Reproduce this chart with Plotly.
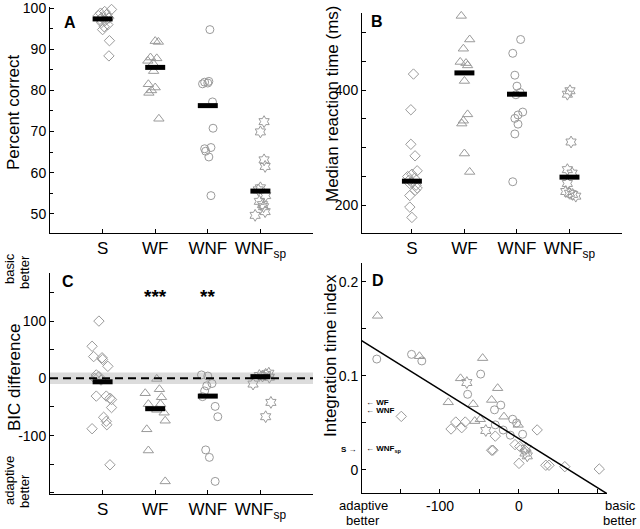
import plotly.graph_objects as go

W, H = 640, 529
FONT = "Liberation Sans, Arial, Helvetica, sans-serif"
GRAY = "#9a9a9a"

# ---------------- data ----------------
categories = ["S", "WF", "WNF", "WNF<sub>sp</sub>"]
cat_pos = [1, 2, 3, 4]
conditions = ["S", "WF", "WNF", "WNFsp"]

# Panel A: percent correct (values, x positions in category units)
pc_S = [99.7, 99.2, 98.8, 98.5, 98.2, 97.9, 97.6, 97.3, 97.0, 96.5, 96.0, 95.5, 94.8, 92.1, 88.4]
pc_S_x = [1.17, 1.04, 0.96, 1.08, 0.92, 1.00, 1.12, 0.95, 1.05, 0.98, 1.10, 1.03, 1.00, 1.13, 1.12]
pc_WF = [92.0, 91.8, 88.0, 87.8, 87.2, 86.6, 84.7, 81.5, 80.7, 80.0, 79.4, 73.1]
pc_WF_x = [2.00, 2.06, 1.91, 2.03, 1.86, 1.96, 1.97, 1.87, 2.00, 1.93, 1.88, 2.07]
pc_WNF = [94.8, 82.2, 82.0, 81.8, 81.6, 77.2, 70.8, 66.1, 65.8, 65.2, 63.8, 54.4]
pc_WNF_x = [3.04, 3.02, 2.94, 3.00, 2.90, 3.09, 3.10, 3.06, 2.94, 2.96, 3.02, 3.06]
pc_WNFsp = [72.4, 69.9, 63.1, 61.5, 56.3, 55.8, 54.4, 53.0, 52.2, 51.7, 50.5, 49.6]
pc_WNFsp_x = [4.07, 4.00, 4.07, 4.09, 4.00, 3.96, 4.10, 3.98, 4.04, 4.06, 4.09, 3.90]
pc_median = [97.4, 85.6, 76.3, 55.5]

# Panel B: median reaction time (ms)
rt_S = [428, 366, 306, 286, 260, 254, 250, 247, 244, 240, 238, 235, 230, 226, 217, 197, 179]
rt_S_x = [1.03, 0.98, 0.98, 1.06, 1.10, 1.00, 0.92, 1.05, 0.95, 1.00, 0.96, 1.08, 1.10, 1.06, 0.96, 0.96, 1.00]
rt_WF = [529, 488, 472, 449, 447, 443, 416, 358, 347, 342, 290, 258]
rt_WF_x = [1.94, 2.10, 1.98, 1.92, 2.03, 2.06, 2.00, 2.06, 1.98, 1.95, 2.00, 2.10]
rt_WNF = [488, 464, 426, 407, 396, 392, 362, 357, 351, 341, 324, 241]
rt_WNF_x = [3.07, 2.92, 2.96, 3.00, 3.06, 2.98, 3.11, 3.02, 2.96, 3.02, 2.96, 2.92]
rt_WNFsp = [399, 393, 310, 262, 256, 238, 224, 221, 219, 216]
rt_WNFsp_x = [4.01, 3.96, 4.03, 3.96, 4.05, 3.96, 3.93, 4.00, 4.06, 4.12]
rt_median = [242, 430, 393, 249]

# Panel C: BIC difference
bic_S = [100, 56, 38, 36, 33, 21, 6, 3, 0, -3, -31, -31, -35, -37, -51, -68, -75, -81, -88, -151]
bic_S_x = [0.93, 0.80, 0.83, 0.99, 1.00, 1.10, 0.88, 0.93, 0.85, 0.97, 0.88, 1.07, 1.14, 1.17, 1.17, 1.02, 1.07, 1.08, 0.80, 1.14]
bic_WF = [-1, -19, -26, -33, -45, -45, -55, -60, -74, -89, -126, -180]
bic_WF_x = [2.03, 2.08, 1.81, 2.12, 1.87, 2.10, 2.03, 2.17, 2.19, 1.84, 1.87, 2.19]
bic_WNF = [6, 4, -9, -13, -22, -32, -49, -67, -125, -138, -180]
bic_WNF_x = [2.88, 3.00, 3.08, 2.98, 2.94, 2.90, 3.14, 3.19, 2.96, 3.03, 3.14]
bic_WNFsp = [9, 7, 5, 4, 2, -10, -42, -67]
bic_WNFsp_x = [4.16, 4.10, 3.98, 4.04, 4.17, 3.86, 4.20, 4.10]
bic_median = [-6, -53, -31, 3]
sig_labels = ["", "***", "**", ""]
sig_level = 150
band_halfwidth = 10

# Panel D: BIC difference (x) vs integration time index (y)
d_S_x = [-149, -86, -80, -72.5, -68, -30, -5, -34.6, -33, 23, 1, 7.6, 0, 34, 38, 58, 101.6]
d_S_y = [0.057, 0.0436, 0.051, 0.045, 0.051, 0.036, 0.027, 0.021, 0.021, 0.0426, 0.025, 0.021, 0.007, 0.005, 0.005, 0.0035, 0.001]
d_WF_x = [-179, -126, -46, -74, -27, -89.5, -34.6, -58, -19, -56, -49, -1]
d_WF_y = [0.164, 0.121, 0.119, 0.0975, 0.087, 0.072, 0.0745, 0.070, 0.0567, 0.052, 0.054, 0.048]
d_WNF_x = [-180, -136, -123, -48.5, -65, -23, -31, -8, -3, -30, -20, -11, 4.6]
d_WNF_y = [0.118, 0.123, 0.116, 0.102, 0.0805, 0.069, 0.064, 0.054, 0.050, 0.048, 0.0425, 0.037, 0.038]
d_WNFsp_x = [-66, -42, 9, 7.6, 10.5]
d_WNFsp_y = [0.093, 0.042, 0.023, 0.018, 0.015]
fit_intercept = 0.0332
fit_slope = -0.000524
fit_x_range = [-200, 115]
mean_markers = {"WF": 0.072, "WNF": 0.063, "S": 0.022, "WNF<sub>sp</sub>": 0.022}

# ---------------- styling ----------------
SYMBOLS = {"S": ("diamond-open", 8), "WF": ("triangle-up-open", 9),
           "WNF": ("circle-open", 8), "WNFsp": ("hexagram-open", 9)}

fig = go.Figure()


def add_points(xs, ys, cond, xa, ya):
    sym, size = SYMBOLS[cond]
    fig.add_trace(go.Scatter(
        x=xs, y=ys, mode="markers", xaxis=xa, yaxis=ya, cliponaxis=False,
        marker=dict(symbol=sym, size=size, color=GRAY, line=dict(color=GRAY, width=1)),
        hoverinfo="skip"))


def add_medians(meds, xa, ya, half=0.19):
    xs, ys = [], []
    for p, m in zip(cat_pos, meds):
        xs += [p - half, p + half, None]
        ys += [m, m, None]
    fig.add_trace(go.Scatter(x=xs, y=ys, mode="lines", xaxis=xa, yaxis=ya,
                             line=dict(color="black", width=5), hoverinfo="skip"))


# Panel A
for xs, ys, c in [(pc_S_x, pc_S, "S"), (pc_WF_x, pc_WF, "WF"),
                  (pc_WNF_x, pc_WNF, "WNF"), (pc_WNFsp_x, pc_WNFsp, "WNFsp")]:
    add_points(xs, ys, c, "x", "y")
add_medians(pc_median, "x", "y")

# Panel B
for xs, ys, c in [(rt_S_x, rt_S, "S"), (rt_WF_x, rt_WF, "WF"),
                  (rt_WNF_x, rt_WNF, "WNF"), (rt_WNFsp_x, rt_WNFsp, "WNFsp")]:
    add_points(xs, ys, c, "x2", "y2")
add_medians(rt_median, "x2", "y2")

# Panel C
for xs, ys, c in [(bic_S_x, bic_S, "S"), (bic_WF_x, bic_WF, "WF"),
                  (bic_WNF_x, bic_WNF, "WNF"), (bic_WNFsp_x, bic_WNFsp, "WNFsp")]:
    add_points(xs, ys, c, "x3", "y3")
add_medians(bic_median, "x3", "y3")

# Panel D
for xs, ys, c in [(d_S_x, d_S_y, "S"), (d_WF_x, d_WF_y, "WF"),
                  (d_WNF_x, d_WNF_y, "WNF"), (d_WNFsp_x, d_WNFsp_y, "WNFsp")]:
    add_points(xs, ys, c, "x4", "y4")
fit_y = [fit_intercept + fit_slope * v for v in fit_x_range]
fig.add_trace(go.Scatter(x=fit_x_range, y=fit_y, mode="lines", xaxis="x4", yaxis="y4",
                         line=dict(color="black", width=1.5), hoverinfo="skip"))


# ---------------- axes ----------------
def dom_x(a, b):
    return [a / W, b / W]


def dom_y(top, bottom):
    return [1 - bottom / H, 1 - top / H]


common = dict(showline=True, linecolor="black", linewidth=1, ticks="inside", ticklen=4,
              tickcolor="black", tickwidth=1, showgrid=False, zeroline=False, automargin=False,
              ticklabeloverflow="allow",
              tickfont=dict(family=FONT, size=14, color="black"), fixedrange=True)

cat_axis = dict(common, tickmode="array", tickvals=cat_pos, ticktext=categories, range=[0, 5],
                tickfont=dict(family=FONT, size=17, color="black"))

A_top, A_bot = 7, 233
B_top, B_bot = 13, 233
C_top, C_bot = 273, 494
D_top, D_bot = 263, 493

fig.update_layout(
    template="none",
    xaxis=dict(cat_axis, domain=dom_x(50, 313), anchor="y"),
    yaxis=dict(common, domain=dom_y(A_top, A_bot), anchor="x", range=[45.3, 100.3],
               tickmode="array", tickvals=[50, 60, 70, 80, 90, 100],
               minor=dict(ticks="inside", ticklen=3, tickcolor="black", dtick=5, tick0=0, showgrid=False)),
    xaxis2=dict(cat_axis, domain=dom_x(362, 622), anchor="y2", range=[0.05, 5]),
    yaxis2=dict(common, domain=dom_y(B_top, B_bot), anchor="x2", range=[152, 534],
                tickmode="array", tickvals=[200, 400],
                minor=dict(ticks="inside", ticklen=4, tickcolor="black", dtick=50, tick0=0, showgrid=False)),
    xaxis3=dict(cat_axis, domain=dom_x(50, 313), anchor="y3"),
    yaxis3=dict(common, domain=dom_y(C_top, C_bot), anchor="x3", range=[-202, 184],
                tickmode="array", tickvals=[-100, 0, 100], ticktext=["-100", "0", "100"],
                minor=dict(ticks="inside", ticklen=4, tickcolor="black", dtick=50, tick0=0, showgrid=False)),
    xaxis4=dict(common, domain=dom_x(362, 607), anchor="y4", range=[-198.7, 111.4],
                tickmode="array", tickvals=[-100, 0], ticktext=["-100", "0"],
                minor=dict(ticks="inside", ticklen=4, tickcolor="black", tickmode="array",
                           tickvals=[-150, -50, 50, 100], showgrid=False)),
    yaxis4=dict(common, domain=dom_y(D_top, D_bot), anchor="x4", range=[-0.0245, 0.2202],
                tickmode="array", tickvals=[0, 0.1, 0.2], ticktext=["0", "0.1", "0.2"],
                minor=dict(ticks="inside", ticklen=4, tickcolor="black", dtick=0.05, tick0=0, showgrid=False)),
    width=W, height=H, margin=dict(l=0, r=0, t=0, b=0, autoexpand=False),
    paper_bgcolor="white", plot_bgcolor="white", showlegend=False,
    font=dict(family=FONT, color="black"),
)

# Panel C band and dashed zero line
fig.add_shape(type="rect", xref="x3", yref="y3", x0=0, x1=5, y0=-band_halfwidth, y1=band_halfwidth,
              fillcolor="#dcdcdc", line=dict(width=0), layer="below")
fig.add_shape(type="line", xref="x3", yref="y3", x0=0, x1=5, y0=0, y1=0,
              line=dict(color="black", width=2, dash="8px,5px"), layer="above")

ann = []


def paper_ann(text, x, y, size=17, angle=0, bold=False, **kw):
    t = f"<b>{text}</b>" if bold else text
    ann.append(dict(text=t, x=x / W, y=1 - y / H, xref="paper", yref="paper", showarrow=False,
                    xanchor="center", yanchor="middle",
                    textangle=angle, font=dict(family=FONT, size=size, color="black"), **kw))


# axis titles
paper_ann("Percent correct", 13, 112, angle=-90)
paper_ann("Median reaction time (ms)", 332, 104, angle=-90)
paper_ann("BIC difference", 14, 378, angle=-90)
paper_ann("Integration time index", 330, 356, angle=-90)
# side notes for panel C (rotated, one annotation per line)
paper_ann("basic", 9, 269, size=13, angle=-90)
paper_ann("better", 24, 272, size=13, angle=-90)
paper_ann("adaptive", 9, 481, size=13, angle=-90)
paper_ann("better", 24, 491, size=13, angle=-90)
# x-axis end notes for panel D
paper_ann("adaptive", 363, 505, size=13)
paper_ann("better", 363, 520.5, size=13)
paper_ann("basic", 620, 505, size=13)
paper_ann("better", 620, 520.5, size=13)

# panel letters
paper_ann("A", 70, 23, size=16, bold=True)
paper_ann("B", 377, 21, size=16, bold=True)
paper_ann("C", 68, 281, size=16, bold=True)
paper_ann("D", 378, 280, size=16, bold=True)

# significance stars
for p, s in zip(cat_pos, sig_labels):
    if s:
        ann.append(dict(text=f"<b>{s}</b>", x=p, y=sig_level, xref="x3", yref="y3", showarrow=False,
                        xanchor="center", yanchor="middle",
                        yshift=-4, font=dict(family=FONT, size=19, color="black")))

# mean markers in D
for name, val in mean_markers.items():
    if name == "S":
        ann.append(dict(text="<b>S →</b>", x=-198.7, y=val, xref="x4", yref="y4", showarrow=False,
                        xanchor="right", yanchor="middle", xshift=-3,
                        font=dict(family=FONT, size=8, color="black")))
    else:
        ann.append(dict(text=f"<b>← {name}</b>", x=-198.7, y=val, xref="x4", yref="y4", showarrow=False,
                        xanchor="left", yanchor="middle", xshift=2,
                        font=dict(family=FONT, size=8, color="black")))

fig.update_layout(annotations=ann)
fig.write_html("out.html", config={"displayModeBar": False},
               post_script="document.body.style.margin='0';")
